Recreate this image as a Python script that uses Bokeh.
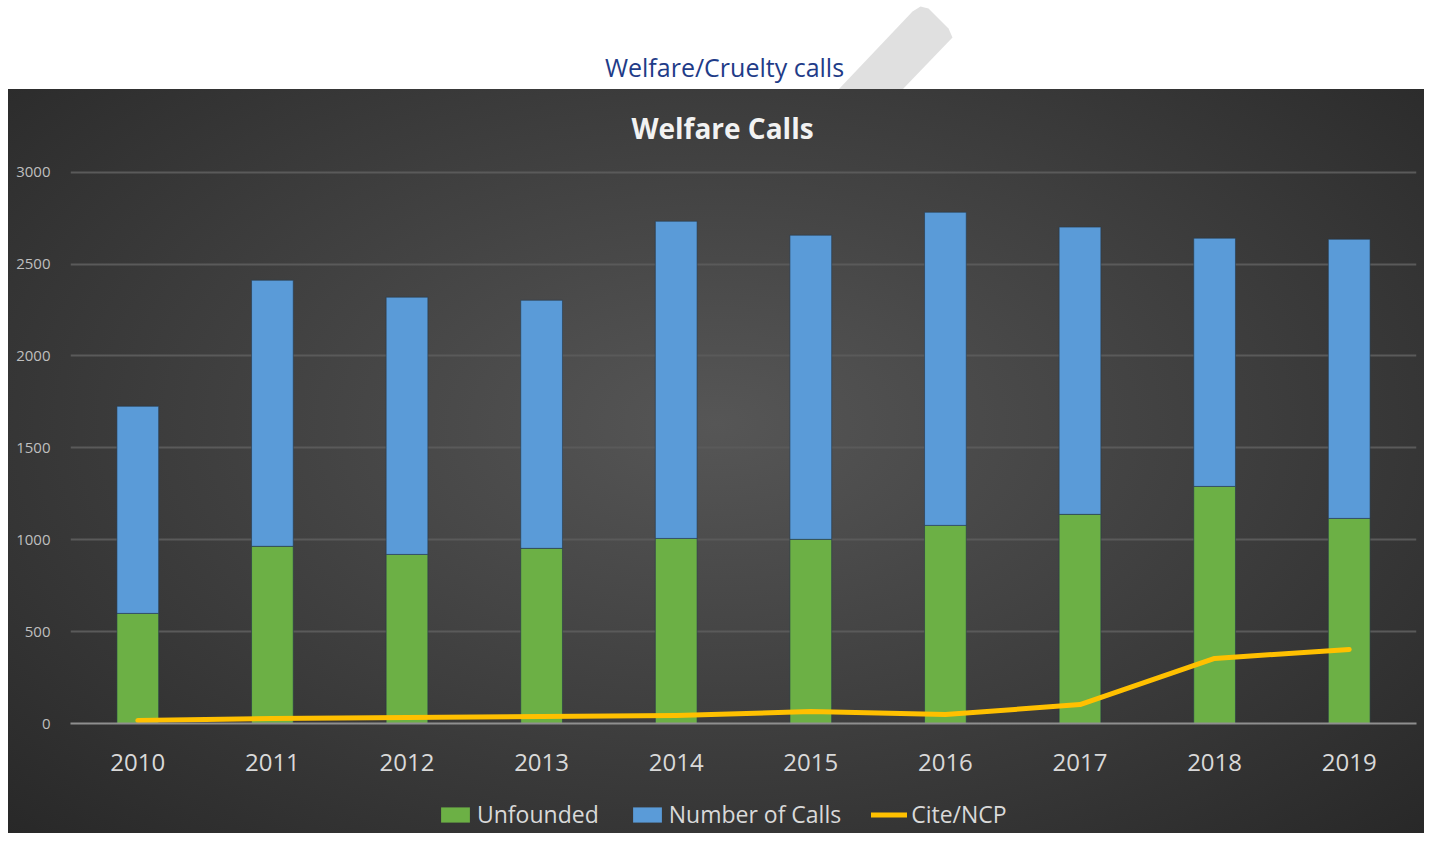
from bokeh.plotting import figure
from bokeh.models import ColumnDataSource, Range1d, FactorRange, Legend, LegendItem, Spacer
from bokeh.layouts import column, row
from bokeh.core.properties import value
from bokeh.embed import file_html
from bokeh.resources import INLINE

# ---- data ----
years = ["2010", "2011", "2012", "2013", "2014", "2015", "2016", "2017", "2018", "2019"]
unfounded = [599, 964, 920, 953, 1007, 1002, 1078, 1138, 1290, 1116]
number_of_calls = [1127, 1448, 1400, 1350, 1726, 1655, 1704, 1563, 1351, 1519]
cite_ncp = [16, 27, 33, 38, 44, 65, 49, 103, 354, 403]
y_ticks = [0, 500, 1000, 1500, 2000, 2500, 3000]

page_title = "Welfare/Cruelty calls"
chart_title = "Welfare Calls"
legend_labels = ["Unfounded", "Number of Calls", "Cite/NCP"]

FONT = "Open Sans"
GREEN = "#6cb045"
BLUE = "#5a9bd8"
YELLOW = "#ffc000"
EDGE = "#27384a"
DARK_BG = "radial-gradient(ellipse at 50% 45%, #565656 0%, #3d3d3d 55%, #282828 100%)"

W = 1424          # whole page content width
CW = W - 8        # dark chart width (white 8px strip on the left)
FRAME_W = CW - 62 - 8


def bare(width, height, xr, yr):
    f = figure(width=width, height=height, output_backend="svg", toolbar_location=None,
               x_range=xr, y_range=yr, min_border=0, min_border_left=0, min_border_right=0,
               min_border_top=0, min_border_bottom=0,
               x_axis_location=None, y_axis_location=None, title=None)
    f.grid.visible = False
    f.outline_line_color = None
    return f


# ---- top strip (white, page title + watermark stripe) ----
top = bare(W, 89, Range1d(0, W), Range1d(0, 89))
top.background_fill_color = "white"
top.border_fill_color = "white"
# decorative watermark stripe (outline in pixel units of this strip, y up)
wx = [912, 920, 928, 948, 952, 902, 838]
wy = [78, 83, 81, 61, 52, 0, 0]
top.patch(wx, wy, fill_color="#e0e0e0", line_color=None)
top.text(x=[724], y=[23], text=[page_title], text_font=value(FONT), text_font_size="25px",
         text_color="#1F3C88", text_align="center", text_baseline="middle")

# ---- chart title strip (dark) ----
tt = bare(CW, 73, Range1d(0, FRAME_W), Range1d(0, 73))
tt.background_fill_color = None
tt.border_fill_color = None
tt.text(x=[652], y=[35], text=[chart_title], text_font=value(FONT), text_font_size="28px",
        text_font_style="bold", text_color="#f2f2f2", text_align="center", text_baseline="middle")

# ---- main chart ----
src = ColumnDataSource(dict(year=years, unfounded=unfounded, calls=number_of_calls, cite=cite_ncp))

p = figure(width=CW, height=628, output_backend="svg", toolbar_location=None, title=None,
           x_range=FactorRange(*years, range_padding=0), y_range=Range1d(0, 3020),
           min_border_left=62, min_border_right=8, min_border_top=6, min_border_bottom=67)
p.background_fill_color = None
p.border_fill_color = None
p.outline_line_color = None

bars = p.vbar_stack(["unfounded", "calls"], x="year", width=0.31, source=src,
                    fill_color=[GREEN, BLUE], line_color=EDGE, line_alpha=0.6, line_width=1)
ln = p.line(x="year", y="cite", source=src, line_color=YELLOW, line_width=5,
            line_cap="round", line_join="round")

p.xgrid.visible = False
p.ygrid.grid_line_color = "#5a5a5a"
p.ygrid.grid_line_width = 2
p.yaxis.ticker = y_ticks
p.yaxis.axis_line_color = None
p.yaxis.major_tick_line_color = None
p.yaxis.minor_tick_line_color = None
p.yaxis.major_label_text_color = "#bfbfbf"
p.yaxis.major_label_text_font = FONT
p.yaxis.major_label_text_font_size = "15px"
p.yaxis.major_label_standoff = 14

p.xaxis.axis_line_color = "#8f8f8f"
p.xaxis.axis_line_width = 2
p.xaxis.major_tick_line_color = None
p.xaxis.minor_tick_line_color = None
p.xaxis.major_label_text_color = "#d9d9d9"
p.xaxis.major_label_text_font = FONT
p.xaxis.major_label_text_font_size = "24px"
p.xaxis.major_label_standoff = 24

# ---- legend strip (continues the chart background) ----
lg = bare(CW, 43, Range1d(0, 1), Range1d(0, 1))
lg.background_fill_color = None
lg.border_fill_color = None
# legend proxies, kept outside the visible range of this strip
proxy = ColumnDataSource(dict(x=[-5, -5], y=[-5, -5]))
r_green = lg.vbar(x="x", top="y", width=0.1, source=proxy, fill_color=GREEN, line_color=None)
r_blue = lg.vbar(x="x", top="y", width=0.1, source=proxy, fill_color=BLUE, line_color=None)
r_line = lg.line(x="x", y="y", source=proxy, line_color=YELLOW, line_width=5, line_cap="round")

legend = Legend(items=[LegendItem(label=legend_labels[0], renderers=[r_green]),
                       LegendItem(label=legend_labels[1], renderers=[r_blue]),
                       LegendItem(label=legend_labels[2], renderers=[r_line])],
                orientation="horizontal", location=(367, 3))
legend.background_fill_alpha = 0
legend.border_line_color = None
legend.label_text_color = "#d9d9d9"
legend.label_text_font = FONT
legend.label_text_font_size = "23px"
legend.glyph_width = 36
legend.glyph_height = 19
legend.label_standoff = 4
legend.spacing = 30
legend.padding = 0
legend.margin = 0
lg.add_layout(legend, "center")

dark = column(tt, p, lg, spacing=0, styles={"background": DARK_BG})
layout = column(top, row(Spacer(width=8, height=744), dark, spacing=0), spacing=0)
open("out.html", "w").write(file_html(layout, INLINE))
